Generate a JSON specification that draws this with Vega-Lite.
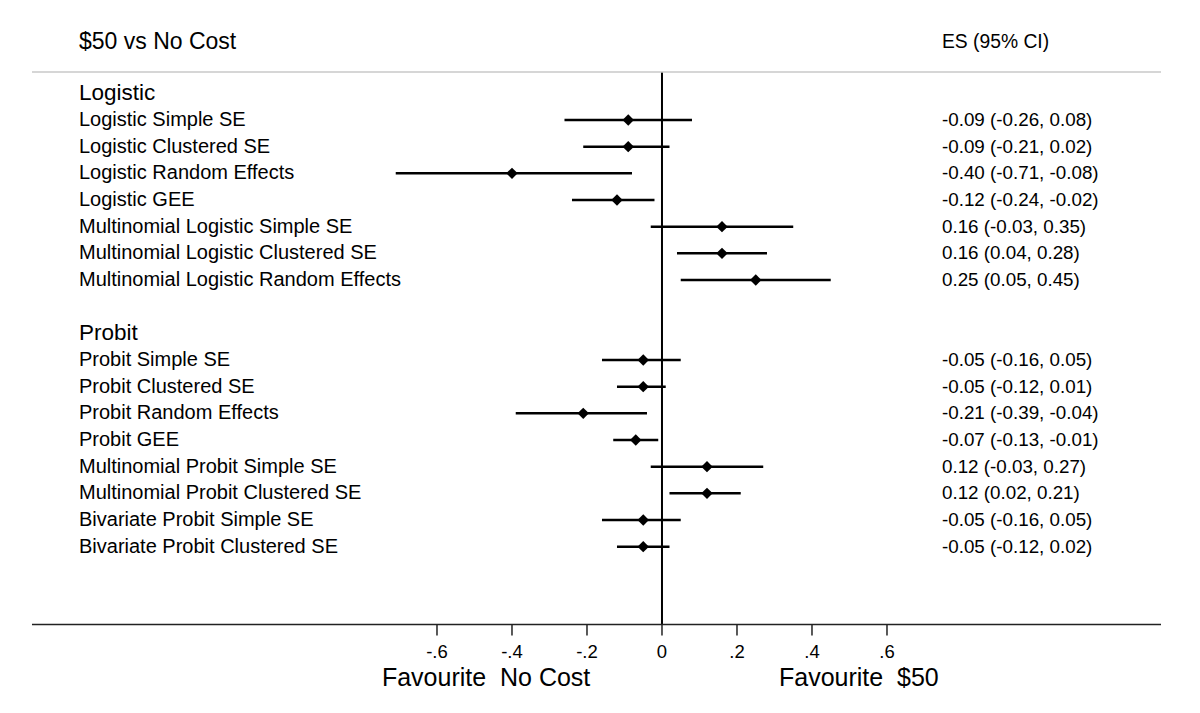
{
  "$schema": "https://vega.github.io/schema/vega-lite/v6.json",
  "width": 1200,
  "height": 713,
  "padding": 0,
  "autosize": {"type": "none"},
  "background": "white",
  "config": {"view": {"stroke": null}, "font": "Liberation Sans", "text": {"font": "Liberation Sans"}},
  "datasets": {
    "rows": [
      {"idx": 1, "label": "Logistic Simple SE", "es": -0.09, "lo": -0.26, "hi": 0.08, "ci": "-0.09 (-0.26, 0.08)"},
      {"idx": 2, "label": "Logistic Clustered SE", "es": -0.09, "lo": -0.21, "hi": 0.02, "ci": "-0.09 (-0.21, 0.02)"},
      {"idx": 3, "label": "Logistic Random Effects", "es": -0.40, "lo": -0.71, "hi": -0.08, "ci": "-0.40 (-0.71, -0.08)"},
      {"idx": 4, "label": "Logistic GEE", "es": -0.12, "lo": -0.24, "hi": -0.02, "ci": "-0.12 (-0.24, -0.02)"},
      {"idx": 5, "label": "Multinomial Logistic Simple SE", "es": 0.16, "lo": -0.03, "hi": 0.35, "ci": "0.16 (-0.03, 0.35)"},
      {"idx": 6, "label": "Multinomial Logistic Clustered SE", "es": 0.16, "lo": 0.04, "hi": 0.28, "ci": "0.16 (0.04, 0.28)"},
      {"idx": 7, "label": "Multinomial Logistic Random Effects", "es": 0.25, "lo": 0.05, "hi": 0.45, "ci": "0.25 (0.05, 0.45)"},
      {"idx": 10, "label": "Probit Simple SE", "es": -0.05, "lo": -0.16, "hi": 0.05, "ci": "-0.05 (-0.16, 0.05)"},
      {"idx": 11, "label": "Probit Clustered SE", "es": -0.05, "lo": -0.12, "hi": 0.01, "ci": "-0.05 (-0.12, 0.01)"},
      {"idx": 12, "label": "Probit Random Effects", "es": -0.21, "lo": -0.39, "hi": -0.04, "ci": "-0.21 (-0.39, -0.04)"},
      {"idx": 13, "label": "Probit GEE", "es": -0.07, "lo": -0.13, "hi": -0.01, "ci": "-0.07 (-0.13, -0.01)"},
      {"idx": 14, "label": "Multinomial Probit Simple SE", "es": 0.12, "lo": -0.03, "hi": 0.27, "ci": "0.12 (-0.03, 0.27)"},
      {"idx": 15, "label": "Multinomial Probit Clustered SE", "es": 0.12, "lo": 0.02, "hi": 0.21, "ci": "0.12 (0.02, 0.21)"},
      {"idx": 16, "label": "Bivariate Probit Simple SE", "es": -0.05, "lo": -0.16, "hi": 0.05, "ci": "-0.05 (-0.16, 0.05)"},
      {"idx": 17, "label": "Bivariate Probit Clustered SE", "es": -0.05, "lo": -0.12, "hi": 0.02, "ci": "-0.05 (-0.12, 0.02)"}
    ],
    "groups": [
      {"idx": 0, "label": "Logistic"},
      {"idx": 9, "label": "Probit"}
    ],
    "ticks": [
      {"v": -0.6, "lab": "-.6"},
      {"v": -0.4, "lab": "-.4"},
      {"v": -0.2, "lab": "-.2"},
      {"v": 0, "lab": "0"},
      {"v": 0.2, "lab": ".2"},
      {"v": 0.4, "lab": ".4"},
      {"v": 0.6, "lab": ".6"}
    ]
  },
  "layer": [
    {
      "data": {"name": "rows"},
      "mark": {"type": "rule", "color": "black", "strokeWidth": 2.5},
      "encoding": {
        "x": {
          "field": "lo", "type": "quantitative",
          "scale": {"domain": [-1.7653, 1.4347], "nice": false, "zero": false},
          "axis": null
        },
        "x2": {"field": "hi"},
        "y": {
          "field": "idx", "type": "quantitative",
          "scale": {"domain": [-3.5, 23.2375], "reverse": true, "nice": false, "zero": false},
          "axis": null
        }
      }
    },
    {
      "data": {"name": "rows"},
      "mark": {"type": "point", "shape": "diamond", "filled": true, "color": "black", "size": 130, "opacity": 1},
      "encoding": {
        "x": {"field": "es", "type": "quantitative", "axis": null},
        "y": {"field": "idx", "type": "quantitative", "axis": null}
      }
    },
    {
      "data": {"name": "rows"},
      "mark": {"type": "text", "align": "left", "baseline": "middle", "fontSize": 20, "color": "black"},
      "encoding": {
        "x": {"datum": -1.5547, "axis": null},
        "y": {"field": "idx", "type": "quantitative", "axis": null},
        "text": {"field": "label"}
      }
    },
    {
      "data": {"name": "rows"},
      "mark": {"type": "text", "align": "left", "baseline": "middle", "fontSize": 18.8, "color": "black"},
      "encoding": {
        "x": {"datum": 0.7467, "axis": null},
        "y": {"field": "idx", "type": "quantitative", "axis": null},
        "text": {"field": "ci"}
      }
    },
    {
      "data": {"name": "groups"},
      "mark": {"type": "text", "align": "left", "baseline": "middle", "fontSize": 22.5, "color": "black"},
      "encoding": {
        "x": {"datum": -1.5547, "axis": null},
        "y": {"field": "idx", "type": "quantitative", "axis": null},
        "text": {"field": "label"}
      }
    },
    {
      "data": {"values": [{"t": "zero"}]},
      "mark": {"type": "rule", "color": "black", "strokeWidth": 2},
      "encoding": {
        "x": {"datum": 0, "axis": null},
        "y": {"datum": -0.8, "axis": null},
        "y2": {"datum": 19.92}
      }
    },
    {
      "data": {"values": [{"t": "top"}]},
      "mark": {"type": "rule", "color": "#c8c8c8", "strokeWidth": 1.5},
      "encoding": {
        "x": {"datum": -1.68, "axis": null},
        "x2": {"datum": 1.3307},
        "y": {"datum": -0.8, "axis": null}
      }
    },
    {
      "data": {"values": [{"t": "axis"}]},
      "mark": {"type": "rule", "color": "#222222", "strokeWidth": 1.5},
      "encoding": {
        "x": {"datum": -1.68, "axis": null},
        "x2": {"datum": 1.3307},
        "y": {"datum": 19.92, "axis": null}
      }
    },
    {
      "data": {"name": "ticks"},
      "mark": {"type": "rule", "color": "#222222", "strokeWidth": 1.5},
      "encoding": {
        "x": {"field": "v", "type": "quantitative", "axis": null},
        "y": {"datum": 19.92, "axis": null},
        "y2": {"datum": 20.33}
      }
    },
    {
      "data": {"name": "ticks"},
      "mark": {"type": "text", "align": "center", "baseline": "middle", "fontSize": 18.5, "color": "black"},
      "encoding": {
        "x": {"field": "v", "type": "quantitative", "axis": null},
        "y": {"datum": 20.95, "axis": null},
        "text": {"field": "lab"}
      }
    },
    {
      "data": {"values": [{"t": "$50 vs No Cost"}]},
      "mark": {"type": "text", "align": "left", "baseline": "middle", "fontSize": 23, "color": "black"},
      "encoding": {
        "x": {"datum": -1.5547, "axis": null},
        "y": {"datum": -1.92, "axis": null},
        "text": {"field": "t"}
      }
    },
    {
      "data": {"values": [{"t": "ES (95% CI)"}]},
      "mark": {"type": "text", "align": "left", "baseline": "middle", "fontSize": 19.3, "color": "black"},
      "encoding": {
        "x": {"datum": 0.7467, "axis": null},
        "y": {"datum": -1.92, "axis": null},
        "text": {"field": "t"}
      }
    },
    {
      "data": {"values": [{"t": "Favourite\u00a0 No Cost"}]},
      "mark": {"type": "text", "align": "center", "baseline": "middle", "fontSize": 25, "color": "black"},
      "encoding": {
        "x": {"datum": -0.469, "axis": null},
        "y": {"datum": 21.92, "axis": null},
        "text": {"field": "t"}
      }
    },
    {
      "data": {"values": [{"t": "Favourite\u00a0 $50"}]},
      "mark": {"type": "text", "align": "center", "baseline": "middle", "fontSize": 25, "color": "black"},
      "encoding": {
        "x": {"datum": 0.525, "axis": null},
        "y": {"datum": 21.92, "axis": null},
        "text": {"field": "t"}
      }
    }
  ]
}
